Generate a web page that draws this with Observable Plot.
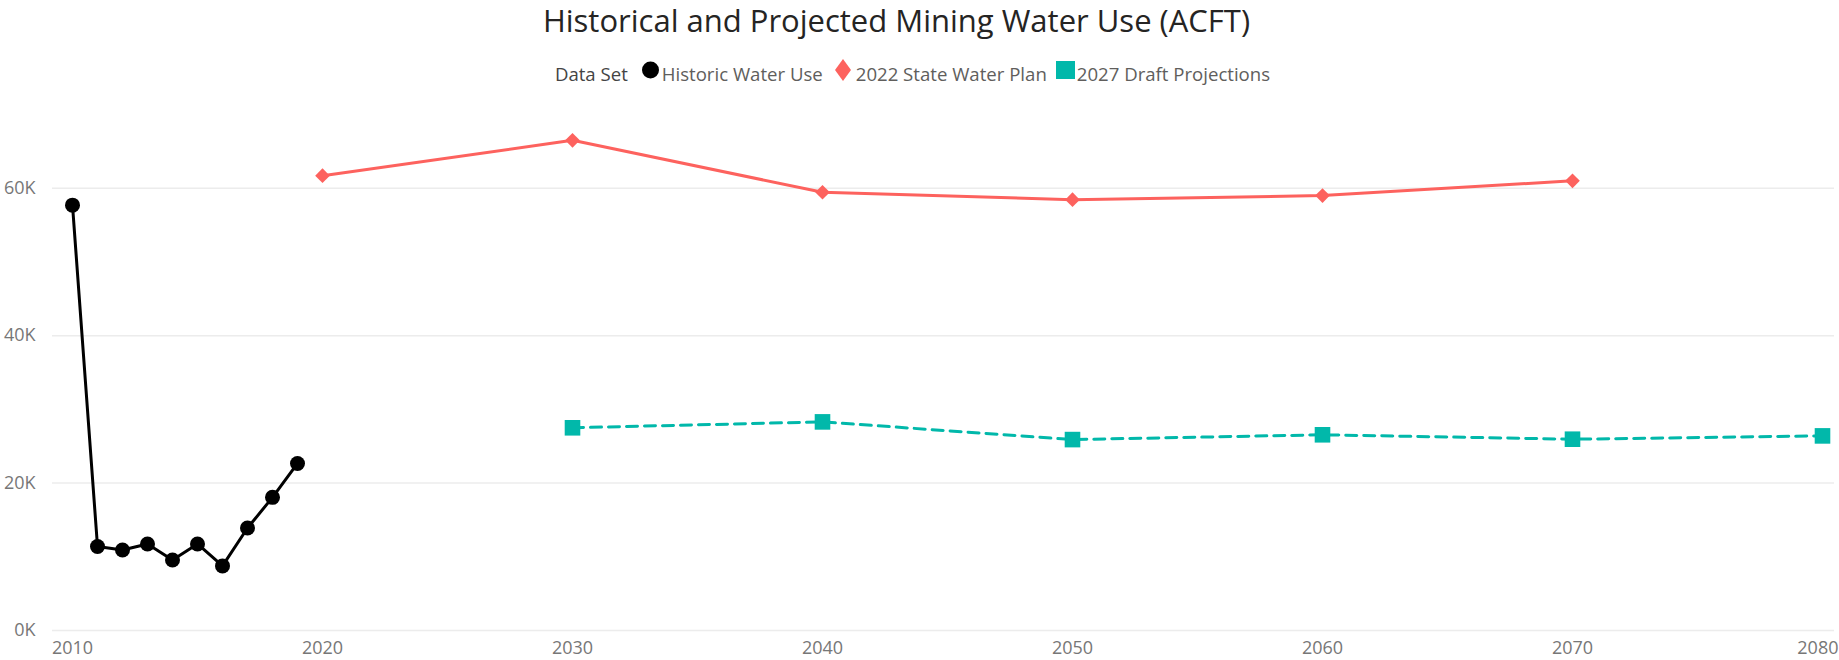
<!DOCTYPE html>
<html>
<head>
<meta charset="utf-8">
<script src="https://cdn.jsdelivr.net/npm/d3@7"></script>
<script src="https://cdn.jsdelivr.net/npm/@observablehq/plot@0.6"></script>
<style>
  body { margin: 0; background: #fff; font-family: "Open Sans", "Noto Sans", sans-serif; }
  #wrap { width: 1839px; }
  #title { height: 40px; line-height: 40px; text-align: center; font-size: 31px; color: #252423; padding-right: 46px; white-space: nowrap; }
  #legend { height: 55px; box-sizing: border-box; padding-top: 22px; padding-right: 14px; display: flex; justify-content: center; align-items: flex-start; font-size: 18.6px; color: #605E5C; line-height: 24px; white-space: nowrap; }
  #legend .lt { color: #444; margin-right: 13px; }
  #legend svg { align-self: center; margin-top: -8px; }
  #legend .item { display: flex; align-items: center; }
</style>
</head>
<body>
<div id="wrap">
  <div id="title">Historical and Projected Mining Water Use (ACFT)</div>
  <div id="legend"></div>
  <div id="chart"></div>
</div>
<script>
// ---- data ----
const historicYears  = [2010, 2011, 2012, 2013, 2014, 2015, 2016, 2017, 2018, 2019];
const historicValues = [57700, 11400, 10930, 11740, 9570, 11740, 8760, 13900, 18060, 22660];

const planYears  = [2020, 2030, 2040, 2050, 2060, 2070];
const planValues = [61700, 66500, 59450, 58450, 59000, 61000];

const draftYears  = [2030, 2040, 2050, 2060, 2070, 2080];
const draftValues = [27500, 28300, 25900, 26550, 25950, 26400];

const seriesNames = ["Historic Water Use", "2022 State Water Plan", "2027 Draft Projections"];
const seriesColors = ["#000000", "#FD625E", "#01B8AA"];
const xTicks = [2010, 2020, 2030, 2040, 2050, 2060, 2070];
const xLastTick = [2080];
const yTicks = [0, 20000, 40000, 60000];
const legendTitle = "Data Set";

// ---- tables ----
const hist  = historicYears.map((x, i) => ({x, y: historicValues[i]}));
const plan  = planYears.map((x, i) => ({x, y: planValues[i]}));
const draft = draftYears.map((x, i) => ({x, y: draftValues[i]}));

// ---- legend ----
const legend = document.getElementById("legend");
const lt = document.createElement("span");
lt.className = "lt"; lt.textContent = legendTitle;
legend.appendChild(lt);
const legendSymbols = [
  `<svg width="19" height="20" viewBox="0 0 19 20" style="margin-right:2px"><circle cx="9.5" cy="10" r="8.5" fill="${seriesColors[0]}"/></svg>`,
  `<svg width="16" height="22" viewBox="0 0 16 22" style="margin-left:12px;margin-right:5px"><path d="M8 0 L16 11 L8 22 L0 11 Z" fill="${seriesColors[1]}"/></svg>`,
  `<svg width="19" height="18" viewBox="0 0 19 18" style="margin-left:9px;margin-right:2px"><rect x="0" y="0" width="19" height="18" fill="${seriesColors[2]}"/></svg>`
];
seriesNames.forEach((name, i) => {
  const item = document.createElement("span");
  item.className = "item";
  item.innerHTML = legendSymbols[i] + `<span>${name}</span>`;
  legend.appendChild(item);
});

// ---- chart ----
const chart = Plot.plot({
  width: 1839,
  height: 565,
  marginLeft: 52,
  marginRight: 5,
  marginTop: 19,
  marginBottom: 30,
  insetLeft: 20,
  insetRight: 12,
  style: { fontFamily: '"Open Sans", "Noto Sans", sans-serif', fontSize: "18px", background: "#fff" },
  x: { domain: [2010, 2080], label: null },
  y: { domain: [0, 70000], label: null },
  marks: [
    Plot.ruleY(yTicks, { stroke: "#ececec", strokeWidth: 1.5 }),
    Plot.axisY(yTicks, { tickSize: 0, tickPadding: 17, tickFormat: d => d / 1000 + "K", fill: "#777", label: null }),
    Plot.axisX(xTicks, { tickSize: 0, tickPadding: 11, tickFormat: d => String(d), fill: "#777", label: null }),
    Plot.axisX(xLastTick, { tickSize: 0, tickPadding: 11, tickFormat: d => String(d), fill: "#777", label: null, textAnchor: "end", dx: 16 }),
    Plot.line(hist, { x: "x", y: "y", stroke: seriesColors[0], strokeWidth: 3 }),
    Plot.dot(hist, { x: "x", y: "y", r: 7.5, fill: seriesColors[0], symbol: "circle" }),
    Plot.line(plan, { x: "x", y: "y", stroke: seriesColors[1], strokeWidth: 3 }),
    Plot.dot(plan, { x: "x", y: "y", r: 6.6, fill: seriesColors[1], symbol: "diamond2" }),
    Plot.line(draft, { x: "x", y: "y", stroke: seriesColors[2], strokeWidth: 3, strokeDasharray: "11,7" }),
    Plot.dot(draft, { x: "x", y: "y", r: 8.8, fill: seriesColors[2], symbol: "square" })
  ]
});
document.getElementById("chart").appendChild(chart);
</script>
</body>
</html>
